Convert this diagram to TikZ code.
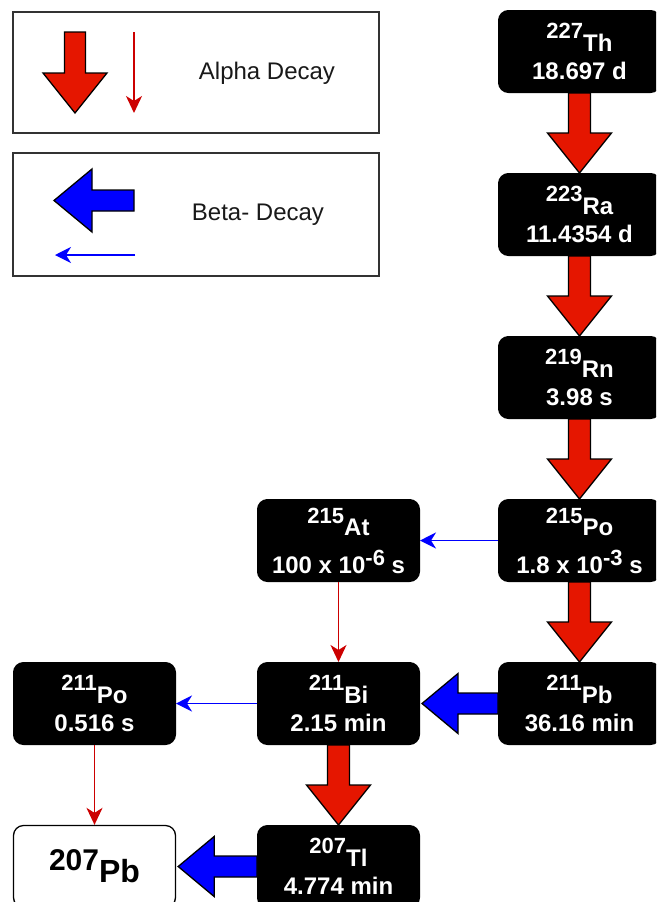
\documentclass[tikz,border=0pt]{standalone}
\usepackage{fontspec}
\setmainfont{Liberation Sans}
\usetikzlibrary{arrows.meta,calc}

\definecolor{alphafill}{RGB}{229,22,0}
\definecolor{alphaline}{RGB}{204,0,0}
\definecolor{betablue}{RGB}{0,0,255}
\definecolor{framegray}{RGB}{51,51,51}

% mass number raised above the element symbol
\newcommand\isotope[3][13pt]{\raisebox{#1}{\fontsize{22}{22}\selectfont #2}#3}
\newcommand\expo[1]{\raisebox{8pt}{\fontsize{22}{22}\selectfont #1}}

\tikzset{
  nuclide/.style={rectangle, rounded corners=10pt, fill=black, draw=black,
    line width=1pt, minimum width=162pt, minimum height=82pt, inner sep=0pt,
    text=white, font=\fontsize{24}{28}\selectfont\bfseries, align=center},
  stable/.style={nuclide, fill=white, text=black, line width=1.3pt,
    font=\fontsize{32}{32}\selectfont\bfseries},
  legendbox/.style={draw=framegray, line width=1.5pt},
  legendtext/.style={font=\fontsize{24}{28}\selectfont, text=black!90},
  alphathin/.style={draw=alphaline, line width=1.6pt,
    -{Stealth[length=17pt,width=16pt,inset=5pt]}},
  betathin/.style={draw=betablue, line width=1.6pt,
    -{Stealth[length=16pt,width=16pt,inset=5pt]}},
  alphafat/.style={fill=alphafill, draw=black, line width=1.3pt},
  betafat/.style={fill=betablue, draw=black, line width=1.3pt},
}

% broad alpha arrow, from the bottom of #1 to the top of #2
\newcommand\alphadrop[2]{%
  \draw[alphafat] let \p1=(#1.south), \p2=(#2.north) in
    ({\x1-11pt},\y1) -- ({\x1-11pt},{\y2+40pt}) -- ({\x1-32pt},{\y2+40pt})
    -- (\x1,\y2) -- ({\x1+32pt},{\y2+40pt}) -- ({\x1+11pt},{\y2+40pt})
    -- ({\x1+11pt},\y1) -- cycle;}
% broad beta arrow, from the left side of #1 to the right side of #2
\newcommand\betashift[2]{%
  \draw[betafat] let \p1=(#1.west), \p2=(#2.east) in
    (\x1,{\y1+10.5pt}) -- ({\x2+38pt},{\y1+10.5pt}) -- ({\x2+38pt},{\y1+30pt})
    -- ({\x2+2pt},\y1) -- ({\x2+38pt},{\y1-30pt}) -- ({\x2+38pt},{\y1-10.5pt})
    -- (\x1,{\y1-10.5pt}) -- cycle;}

\begin{document}
\begin{tikzpicture}[x=1pt,y=-1pt]
\useasboundingbox (0,0) rectangle (656,902);
\clip (0,0) rectangle (656,902);
\fill[white] (0,0) rectangle (656,902);

% legend
\draw[legendbox] (13,12) rectangle (379,133);
\draw[legendbox] (13,153) rectangle (379,276);
\draw[alphafat] (64.5,32) -- (64.5,73) -- (43,73) -- (75,113) -- (107,73)
  -- (85.5,73) -- (85.5,32) -- cycle;
\coordinate (la1) at (134,32);
\coordinate (la2) at (134,113);
\draw[alphathin] (la1) -- (la2);
\node[legendtext] (lalpha) at (267,73) {Alpha Decay};
\draw[betafat] (134,190) -- (92,190) -- (92,169) -- (54,200.5) -- (92,232)
  -- (92,211) -- (134,211) -- cycle;
\coordinate (lb1) at (135,255);
\coordinate (lb2) at (55,255);
\draw[betathin] (lb1) -- (lb2);
\node[legendtext] (lbeta) at (258,215) {Beta- Decay};

% decay chain
\node[nuclide] (th227) at (579.5,51.5) {\isotope{227}{Th}\\18.697 d};
\node[nuclide] (ra223) at (579.5,214.5) {\isotope{223}{Ra}\\11.4354 d};
\node[nuclide] (rn219) at (579.5,377.5) {\isotope{219}{Rn}\\3.98 s};
\node[nuclide] (po215) at (579.5,540.5) {\isotope[12pt]{215}{Po}\\[10pt]1.8 x 10\expo{-3} s};
\node[nuclide] (at215) at (338.5,540.5) {\isotope[12pt]{215}{At}\\[10pt]100 x 10\expo{-6} s};
\node[nuclide] (pb211) at (579.5,703.5) {\isotope{211}{Pb}\\36.16 min};
\node[nuclide] (bi211) at (338.5,703.5) {\isotope{211}{Bi}\\2.15 min};
\node[nuclide] (po211) at (94.5,703.5) {\isotope{211}{Po}\\0.516 s};
\node[nuclide] (tl207) at (338.5,866.5) {\isotope{207}{Tl}\\4.774 min};
\node[stable] (pb207) at (94.5,866.5)
  {\raisebox{12pt}{\fontsize{30}{30}\selectfont 207}Pb};

\alphadrop{th227}{ra223}
\alphadrop{ra223}{rn219}
\alphadrop{rn219}{po215}
\alphadrop{po215}{pb211}
\alphadrop{bi211}{tl207}
\betashift{pb211}{bi211}
\betashift{tl207}{pb207}

\draw[betathin] (po215.west) -- (at215.east);
\draw[betathin] (bi211.west) -- (po211.east);
\draw[alphathin] (at215.south) -- (bi211.north);
\draw[alphathin] (po211.south) -- (pb207.north);
\end{tikzpicture}
\end{document}
